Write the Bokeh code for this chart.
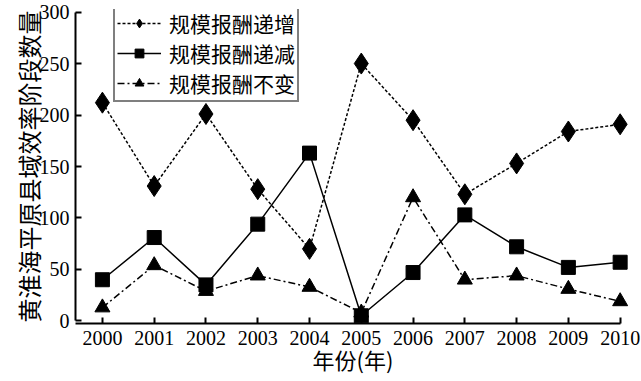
from bokeh.plotting import figure
from bokeh.models import Range1d, Legend, LegendItem, FixedTicker
from bokeh.embed import file_html
from bokeh.resources import INLINE

years = [2000, 2001, 2002, 2003, 2004, 2005, 2006, 2007, 2008, 2009, 2010]
inc = [212, 131, 201, 128, 70, 250, 195, 123, 153, 184, 191]
dec = [40, 81, 35, 94, 163, 5, 47, 103, 72, 52, 57]
same = [13, 54, 29, 44, 33, 8, 120, 40, 44, 31, 19]
names = ["规模报酬递增", "规模报酬递减", "规模报酬不变"]

p = figure(width=641, height=381, output_backend="svg", toolbar_location=None,
           x_range=Range1d(1999.48, 2010.2), y_range=Range1d(-2.5, 302.5),
           min_border_left=75, min_border_right=11, min_border_top=9, min_border_bottom=58)
p.outline_line_color = None
p.grid.visible = False
p.background_fill_color = "white"

l1 = p.line(years, inc, line_color="black", line_width=1.5, line_dash="3 2")
m1 = p.scatter(years, inc, marker="diamond", size=21, color="black")
l2 = p.line(years, dec, line_color="black", line_width=1.5)
m2 = p.scatter(years, dec, marker="square", size=14, color="black")
l3 = p.line(years, same, line_color="black", line_width=1.5, line_dash="7 3 2 3")
m3 = p.scatter(years, same, marker="triangle", size=15, color="black")

for ax in (p.xaxis, p.yaxis):
    ax.axis_line_color = "black"
    ax.axis_line_width = 2
    ax.major_tick_in = 6
    ax.major_tick_out = 0
    ax.major_tick_line_width = 2
    ax.minor_tick_line_color = None
    ax.major_label_text_font = "Liberation Serif"
    ax.major_label_text_font_size = "20px"
    ax.major_label_text_color = "black"
    ax.axis_label_text_font = "Noto Sans CJK SC"
    ax.axis_label_text_font_style = "normal"
    ax.axis_label_text_color = "black"

p.xaxis.ticker = FixedTicker(ticks=years)
p.xaxis.bounds = (1999.48, 2010)
p.xaxis.major_label_standoff = 7
p.xaxis.axis_label = "年份(年)"
p.xaxis.axis_label_text_font_size = "22px"
p.xaxis.axis_label_standoff = -5

p.yaxis.ticker = FixedTicker(ticks=[0, 50, 100, 150, 200, 250, 300])
p.yaxis.bounds = (0, 300)
p.yaxis.major_label_standoff = 6
p.yaxis.axis_label = "黄淮海平原县域效率阶段数量"
p.yaxis.axis_label_text_font_size = "24px"
p.yaxis.axis_label_standoff = -9

legend = Legend(items=[LegendItem(label=names[0], renderers=[l1, m1]),
                       LegendItem(label=names[1], renderers=[l2, m2]),
                       LegendItem(label=names[2], renderers=[l3, m3])],
                location=(38, 221))
legend.border_line_color = "black"
legend.border_line_width = 2
legend.background_fill_alpha = 1
legend.label_text_font = "Noto Sans CJK SC"
legend.label_text_font_size = "21px"
legend.label_text_color = "black"
legend.glyph_width = 44
legend.glyph_height = 22
legend.label_height = 22
legend.spacing = 0
legend.padding = 2
legend.margin = 0
legend.label_standoff = 8
p.add_layout(legend, "center")

open("out.html", "w").write(file_html(p, INLINE))
